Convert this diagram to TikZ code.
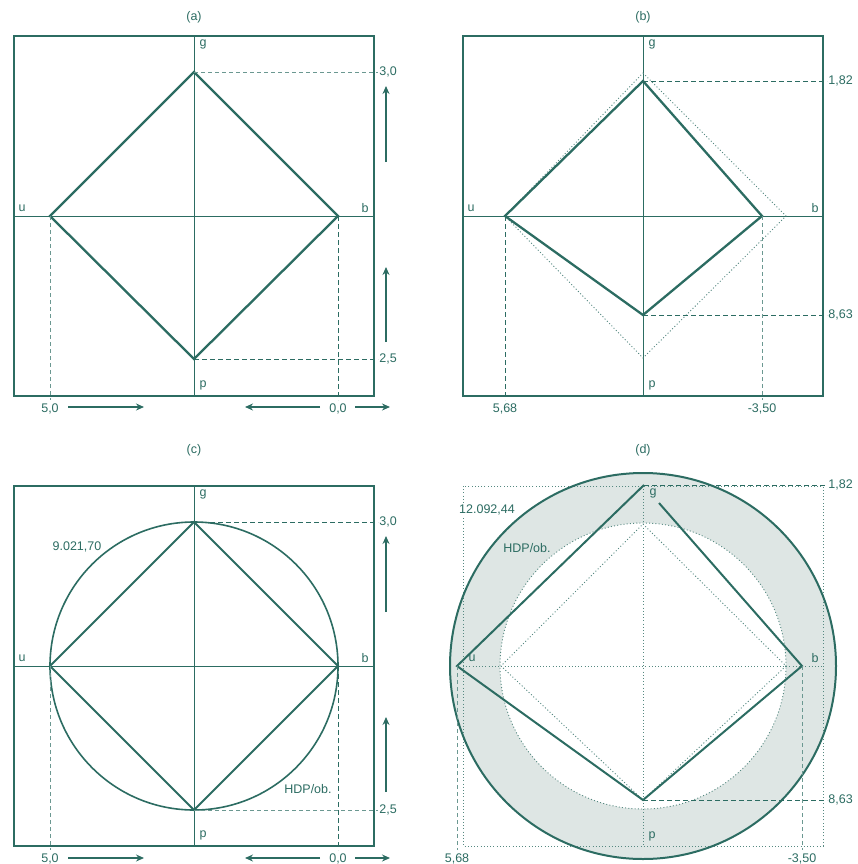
\documentclass[tikz,border=0pt]{standalone}
\usepackage{fontspec}
\setmainfont{Liberation Sans}
\usetikzlibrary{arrows.meta}
\definecolor{dkteal}{RGB}{44,108,98}
\definecolor{ringfill}{RGB}{222,230,228}

\tikzset{
  frame/.style={draw=dkteal, line width=1.1pt},
  axis/.style={draw=dkteal, line width=1pt},
  poly/.style={draw=dkteal, line width=2.3pt, line join=miter},
  guide/.style={draw=dkteal, line width=0.9pt, dash pattern=on 5pt off 3pt},
  faint/.style={draw=dkteal!70, line width=0.8pt, dash pattern=on 4pt off 3pt},
  dots/.style={draw=dkteal!80, line width=0.9pt, dash pattern=on 1pt off 2.2pt},
  lbl/.style={text=dkteal, inner sep=1pt},
  arr/.style={-{Stealth[length=8pt,width=7pt]}, line width=1.2pt, draw=dkteal},
}

\begin{document}
\begin{tikzpicture}[x=1pt, y=-1pt, font=\fontsize{12.5}{14}\selectfont]
\useasboundingbox (0,0) rectangle (858,864);

% === (a): square with rhombus ===
\begin{scope}[shift={(194,216)}]
  \node[lbl] (a-title) at (0,-199) {(a)};
  \draw[frame] (-180,-180) rectangle (180,180);
  \draw[axis] (0,-180) -- (0,180) (-180,0) -- (180,0);
  \coordinate (a-g) at (0,-144);
  \coordinate (a-b) at (144,0);
  \coordinate (a-p) at (0,143);
  \coordinate (a-u) at (-144,0);
  \draw[poly] (a-g) -- (a-b) -- (a-p) -- (a-u) -- cycle;
  % guides to the scales
  \draw[faint] (a-g) -- (184,-144) node[lbl,right] (a-s1) {3,0};
  \draw[guide] (a-p) -- (184,143) node[lbl,right] (a-s2) {2,5};
  \draw[faint] (a-u) -- (-144,184) node[lbl,below=2pt] (a-s3) {5,0};
  \draw[guide] (a-b) -- (144,184) node[lbl,below=2pt,fill=white] (a-s4) {0,0};
  % arrows
  \draw[arr] (-126,191) -- (-50,191);
  \draw[arr] (126,191) -- (51,191);
  \draw[arr] (161,191) -- (196,191);
  \draw[arr] (192,-54) -- (192,-130);
  \draw[arr] (192,126) -- (192,51);
  \node[lbl] (a-gl) at (9,-172) {g};
  \node[lbl] (a-ul) at (-172,-8) {u};
  \node[lbl] (a-bl) at (171,-8) {b};
  \node[lbl] (a-pl) at (9,169) {p};
\end{scope}

% === (b): shifted rhombus ===
\begin{scope}[shift={(643,216)}]
  \node[lbl] (b-title) at (0,-199) {(b)};
  \draw[frame] (-180,-180) rectangle (180,180);
  \draw[axis] (0,-180) -- (0,180) (-180,0) -- (180,0);
  % old rhombus, dotted
  \draw[dots] (0,-143) -- (143,0) -- (0,142) -- (-138,0) -- cycle;
  \coordinate (b-g) at (0,-135);
  \coordinate (b-b) at (119,0);
  \coordinate (b-p) at (0,99);
  \coordinate (b-u) at (-138,0);
  \draw[poly] (b-g) -- (b-b) -- (b-p) -- (b-u) -- cycle;
  \draw[guide] (b-g) -- (184,-135) node[lbl,right] (b-s1) {1,82};
  \draw[guide] (b-p) -- (184,99) node[lbl,right] (b-s2) {8,63};
  \draw[guide] (b-u) -- (-138,184) node[lbl,below=2pt] (b-s3) {5,68};
  \draw[faint] (b-b) -- (119,184) node[lbl,below=2pt] (b-s4) {-3,50};
  \node[lbl] (b-gl) at (9,-172) {g};
  \node[lbl] (b-ul) at (-172,-8) {u};
  \node[lbl] (b-bl) at (172,-8) {b};
  \node[lbl] (b-pl) at (9,169) {p};
\end{scope}

% === (c): rhombus with circle ===
\begin{scope}[shift={(194,666)}]
  \node[lbl] (c-title) at (0,-216) {(c)};
  \draw[frame] (-180,-180) rectangle (180,180);
  \draw[axis] (0,-180) -- (0,180) (-180,0) -- (180,0);
  \draw[draw=dkteal, line width=1.6pt] (0,0) circle[radius=144pt];
  \coordinate (c-g) at (0,-144);
  \coordinate (c-b) at (144,0);
  \coordinate (c-p) at (0,144);
  \coordinate (c-u) at (-144,0);
  \draw[poly, line width=1.9pt] (c-g) -- (c-b) -- (c-p) -- (c-u) -- cycle;
  \draw[guide] (c-g) -- (184,-144) node[lbl,right] (c-s1) {3,0};
  \draw[faint] (c-p) -- (184,144) node[lbl,right] (c-s2) {2,5};
  \draw[faint] (c-u) -- (-144,184) node[lbl,below=2pt] (c-s3) {5,0};
  \draw[guide] (c-b) -- (144,184) node[lbl,below=2pt,fill=white] (c-s4) {0,0};
  \draw[arr] (-126,192) -- (-50,192);
  \draw[arr] (126,192) -- (51,192);
  \draw[arr] (161,192) -- (196,192);
  \draw[arr] (192,-54) -- (192,-130);
  \draw[arr] (192,126) -- (192,51);
  \node[lbl] (c-area) at (-117,-119) {9.021,70};
  \node[lbl] (c-hdp) at (114,123) {HDP/ob.};
  \node[lbl] (c-gl) at (9,-172) {g};
  \node[lbl] (c-ul) at (-172,-8) {u};
  \node[lbl] (c-bl) at (171,-8) {b};
  \node[lbl] (c-pl) at (9,169) {p};
\end{scope}

% === (d): shifted rhombus with ring ===
\begin{scope}[shift={(643,666)}]
  \node[lbl] (d-title) at (0,-216) {(d)};
  \fill[ringfill, even odd rule] (0,0) circle[radius=193pt] (0,0) circle[radius=143pt];
  \draw[dots] (0,0) circle[radius=143pt];
  \draw[dots] (-180,-180) rectangle (180,180);
  \draw[dots] (0,-180) -- (0,180) (-180,0) -- (180,0);
  \draw[dots] (0,-142) -- (143,0) -- (0,134) -- (-142,0) -- cycle;
  \draw[draw=dkteal, line width=2pt] (0,0) circle[radius=193pt];
  \coordinate (d-g) at (1,-181);
  \coordinate (d-gg) at (16,-163);
  \coordinate (d-b) at (159,0);
  \coordinate (d-p) at (0,134);
  \coordinate (d-u) at (-186,0);
  \draw[poly, line width=2pt] (d-gg) -- (d-b) -- (d-p) -- (d-u) -- (d-g);
  \draw[guide] (d-g) -- (184,-181) node[lbl,right] (d-s1) {1,82};
  \draw[guide] (d-p) -- (184,134) node[lbl,right] (d-s2) {8,63};
  \draw[faint] (d-u) -- (-186,184) node[lbl,below=2pt] (d-s3) {5,68};
  \draw[faint] (d-b) -- (159,184) node[lbl,below=2pt] (d-s4) {-3,50};
  \node[lbl, fill=white] (d-area) at (-156,-156) {12.092,44};
  \node[lbl] (d-hdp) at (-116,-118) {HDP/ob.};
  \node[lbl] (d-gl) at (10,-173) {g};
  \node[lbl] (d-ul) at (-171,-8) {u};
  \node[lbl] (d-bl) at (172,-8) {b};
  \node[lbl] (d-pl) at (9,170) {p};
\end{scope}

\end{tikzpicture}
\end{document}
